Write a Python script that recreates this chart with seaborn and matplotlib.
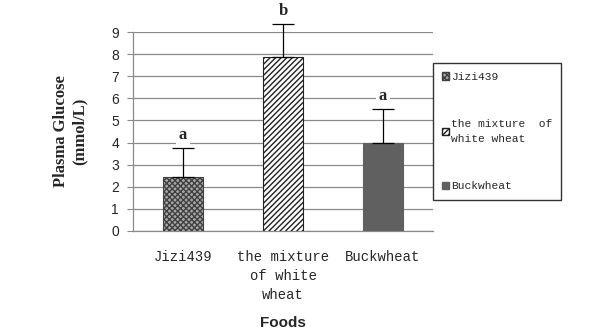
import seaborn as sns
import matplotlib.pyplot as plt
import pandas as pd

# data
foods = ['Jizi439', 'the mixture\nof white\nwheat', 'Buckwheat']
legend_labels = ['Jizi439', 'the mixture  of\nwhite wheat', 'Buckwheat']
glucose = [2.45, 7.85, 4.0]
sd = [1.3, 1.5, 1.5]
letters = ['a', 'b', 'a']

df = pd.DataFrame({'food': foods, 'glucose': glucose})

sns.set_style('white')
fig = plt.figure(figsize=(6, 3.34), dpi=100)
ax = fig.add_axes([133 / 600, 1 - 231 / 334, 300 / 600, 199 / 334])

sns.barplot(x='food', y='glucose', data=df, ax=ax, width=0.4,
            color='white', errorbar=None, zorder=3)

faces = ['#a8a8a8', 'white', '#606060']
hatches = ['xxxxxx', '//////', '']
edges = ['#404040', '#222222', '#606060']
for bar, fc, h, ec in zip(ax.patches, faces, hatches, edges):
    bar.set_facecolor(fc)
    bar.set_hatch(h)
    bar.set_edgecolor(ec)
    bar.set_linewidth(0.8)

xs = range(len(foods))
ax.errorbar(xs, glucose, yerr=[[0] * 3, sd], fmt='none', ecolor='black',
            elinewidth=0.9, capsize=8, capthick=0.9, zorder=4, clip_on=False)

for x, g, s, t in zip(xs, glucose, sd, letters):
    ax.text(x, g + s + 0.25, t, ha='center', va='bottom', fontsize=12,
            fontweight='bold', family='Liberation Serif', zorder=5,
            clip_on=False,
            bbox=dict(facecolor='white', edgecolor='none', pad=2))

ax.set_ylim(0, 9)
ax.set_xlim(-0.5, 2.5)
ax.set_yticks(range(10))
ax.yaxis.grid(True, color='#8a8a8a', linewidth=0.9, zorder=0)
ax.set_axisbelow(True)
for side in ['top', 'right']:
    ax.spines[side].set_visible(False)
for side in ['left', 'bottom']:
    ax.spines[side].set_color('#8a8a8a')
    ax.spines[side].set_linewidth(0.9)
ax.tick_params(axis='y', left=True, length=4, color='#8a8a8a',
               labelsize=10, pad=6)
ax.tick_params(axis='x', bottom=False, labelsize=10, pad=10)
for lab in ax.get_yticklabels():
    lab.set_family('Liberation Sans')
for lab in ax.get_xticklabels():
    lab.set_family('Liberation Mono')
    lab.set_linespacing(1.45)

ax.set_xlabel('Foods', fontsize=11, fontweight='bold',
              family='Liberation Sans', labelpad=10)
ax.set_ylabel('Plasma Glucose\n(mmol/L)', fontsize=12, fontweight='bold',
              family='Liberation Serif', labelpad=17, linespacing=1.25)

handles = [plt.Rectangle((0, 0), 1, 1, facecolor=b.get_facecolor(),
                         hatch=b.get_hatch(), edgecolor=b.get_edgecolor())
           for b in ax.patches]
leg = fig.legend(handles, legend_labels, loc='upper left',
                 bbox_to_anchor=(433 / 600, 1 - 63 / 334),
                 prop={'family': 'Liberation Mono', 'size': 8.1},
                 handlelength=0.6, handleheight=0.6, handletextpad=0.2,
                 labelspacing=3.3, borderpad=0.8, borderaxespad=0,
                 fancybox=False, frameon=True)
leg.get_frame().set_edgecolor('black')
leg.get_frame().set_linewidth(1.0)
for t in leg.get_texts():
    t.set_linespacing(1.6)

plt.savefig('out.png', dpi=100)
